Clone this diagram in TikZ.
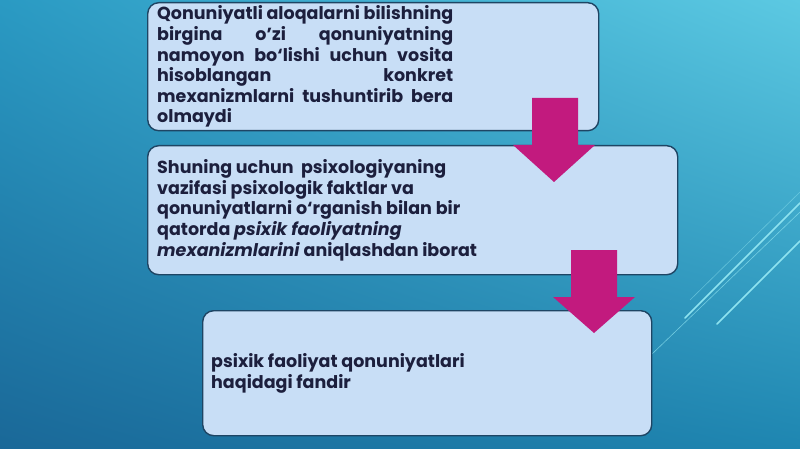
\documentclass[tikz,border=0pt]{standalone}
\usepackage{fontspec}
\usetikzlibrary{shadings}
\setmainfont{Poppins}
\definecolor{bgUL}{HTML}{2A9AC3}
\definecolor{bgUR}{HTML}{5CC9E2}
\definecolor{bgLL}{HTML}{1A6898}
\definecolor{bgLR}{HTML}{1E86B1}
\definecolor{boxfill}{HTML}{C8DEF6}
\definecolor{boxline}{HTML}{1E4564}
\definecolor{txt}{HTML}{1C1F3D}
\definecolor{arrowc}{HTML}{C21A7E}
\definecolor{deco}{HTML}{8EE3F0}
\tikzset{
  x=1pt, y=-1pt,
  box/.style={draw=boxline, line width=1.4pt, fill=boxfill, rounded corners=11pt, inner sep=0pt},
  txtnode/.style={anchor=west, inner sep=0pt, align=left, text=txt,
    font=\fontsize{17.5}{20.6}\selectfont\bfseries},
  blockarrow/.style={fill=arrowc, draw=none},
  decoline/.style={draw=deco, line cap=round}
}
\begin{document}
\begin{tikzpicture}
\useasboundingbox (0,0) rectangle (800,449);
\shade[upper left=bgUL, upper right=bgUR, lower left=bgLL, lower right=bgLR] (0,0) rectangle (800,449);
% decorative lines
\draw[decoline, line width=1.6pt] (685,318) -- (800,203);
\draw[decoline, line width=0.6pt, opacity=0.7] (652,354) -- (800,212);
\draw[decoline, line width=0.6pt, opacity=0.5] (690,300) -- (800,192);
\draw[decoline, line width=1.6pt] (717,324) -- (800,241);
% boxes
\node[box, anchor=north west, minimum width=451pt, minimum height=128pt] (b1) at (147,2) {};
\node[box, anchor=north west, minimum width=530pt, minimum height=129pt] (b2) at (147,145) {};
\node[box, anchor=north west, minimum width=449pt, minimum height=125pt] (b3) at (202,310) {};
% texts
\node[txtnode] (t1) at ([xshift=10pt]b1.west) {%
\makebox[296pt][s]{Qonuniyatli aloqalarni bilishning}\\
\makebox[296pt][s]{birgina o’zi qonuniyatning}\\
\makebox[296pt][s]{namoyon bo‘lishi uchun vosita}\\
\makebox[296pt][s]{hisoblangan konkret}\\
\makebox[296pt][s]{mexanizmlarni tushuntirib bera}\\
olmaydi};
\node[txtnode] (t2) at ([xshift=10pt]b2.west) {%
Shuning uchun\ \ psixologiyaning\\
vazifasi psixologik faktlar va\\
qonuniyatlarni o‘rganish bilan bir\\
qatorda \textit{psixik faoliyatning}\\
\textit{mexanizmlarini} aniqlashdan iborat};
\node[txtnode] (t3) at ([xshift=9pt]b3.west) {%
psixik faoliyat qonuniyatlari\\
haqidagi fandir};
% arrows
\fill[blockarrow] (532,98) -- (578,98) -- (578,145) -- (595,145) -- (554,182) -- (513,145) -- (532,145) -- cycle;
\fill[blockarrow] (571,250) -- (617,250) -- (617,297) -- (635,297) -- (594,333) -- (553,297) -- (571,297) -- cycle;
\end{tikzpicture}
\end{document}
